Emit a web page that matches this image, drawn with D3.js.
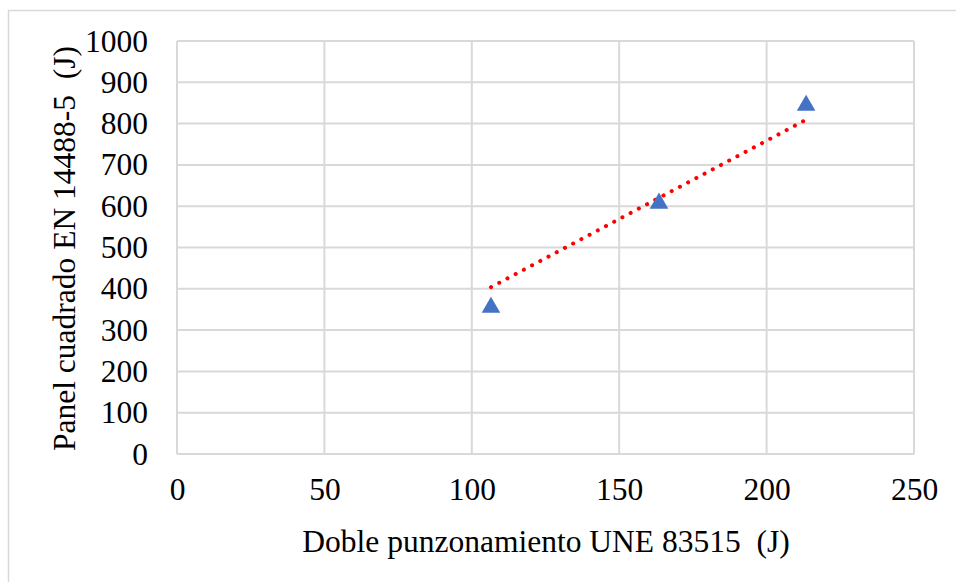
<!DOCTYPE html>
<html><head><meta charset="utf-8">
<script src="https://cdn.jsdelivr.net/npm/d3@7"></script>
<style>
html,body{margin:0;padding:0;background:#fff;}
svg{display:block;}
</style></head>
<body>
<svg id="c" width="956" height="582"></svg>
<script>
const xValues = [106.5, 163.5, 213.4];
const yValues = [355, 607, 844];
const xTicks = [0, 50, 100, 150, 200, 250];
const yTicks = [0, 100, 200, 300, 400, 500, 600, 700, 800, 900, 1000];
const xTitle = "Doble punzonamiento UNE 83515  (J)";
const yTitle = "Panel cuadrado EN 14488-5  (J)";

const FONT = "Liberation Serif";
const FS = 31.5;
const svg = d3.select("#c");
const W = 956, H = 582;
const m = {left:177, top:41, right:914, bottom:454};

svg.append("rect").attr("x",8.5).attr("y",10.5).attr("width",W+20).attr("height",H+20)
  .attr("fill","#fff").attr("stroke","#d9d9d9").attr("stroke-width",1.5);

const x = d3.scaleLinear().domain([0,250]).range([m.left,m.right]);
const y = d3.scaleLinear().domain([0,1000]).range([m.bottom,m.top]);

svg.append("g").selectAll("line").data(yTicks).join("line")
  .attr("x1",m.left).attr("x2",m.right).attr("y1",d=>y(d)).attr("y2",d=>y(d))
  .attr("stroke","#d9d9d9").attr("stroke-width",2);
svg.append("g").selectAll("line").data(xTicks).join("line")
  .attr("y1",m.top).attr("y2",m.bottom).attr("x1",d=>x(d)).attr("x2",d=>x(d))
  .attr("stroke","#d9d9d9").attr("stroke-width",2);

const xAxis = svg.append("g").attr("transform",`translate(0,${m.bottom})`)
  .call(d3.axisBottom(x).tickValues(xTicks).tickSize(0).tickPadding(24).tickFormat(d3.format("d")));
xAxis.attr("font-family",FONT).attr("font-size",FS);
xAxis.select(".domain").remove();
xAxis.selectAll("text").attr("fill","#000");

const yAxis = svg.append("g").attr("transform",`translate(${m.left},0)`)
  .call(d3.axisLeft(y).tickValues(yTicks).tickSize(0).tickPadding(29).tickFormat(d3.format("d")));
yAxis.attr("font-family",FONT).attr("font-size",FS);
yAxis.select(".domain").remove();
yAxis.selectAll("text").attr("fill","#000");

const slope = d3.sum(xValues.map((v,i)=>v*yValues[i])) / d3.sum(xValues.map(v=>v*v));
const xr = d3.extent(xValues);
svg.append("line")
  .attr("x1",x(xr[0])).attr("y1",y(slope*xr[0]))
  .attr("x2",x(xr[1])).attr("y2",y(slope*xr[1]))
  .attr("stroke","#ff0000").attr("stroke-width",4)
  .attr("stroke-linecap","round").attr("stroke-dasharray","0.1 9.2");

const tri = d3.symbol().type(d3.symbolTriangle).size(150);
svg.append("g").selectAll("path").data(xValues).join("path")
  .attr("d",tri)
  .attr("transform",(d,i)=>`translate(${x(d)},${y(yValues[i])})`)
  .attr("fill","#4472c4");

svg.append("text").attr("x",546).attr("y",552)
  .attr("font-family",FONT).attr("font-size",FS)
  .attr("text-anchor","middle").style("white-space","pre").text(xTitle);
svg.append("text").attr("transform",`translate(75,${248.5}) rotate(-90)`)
  .attr("font-family",FONT).attr("font-size",FS)
  .attr("text-anchor","middle").style("white-space","pre").text(yTitle);
</script>
</body></html>
